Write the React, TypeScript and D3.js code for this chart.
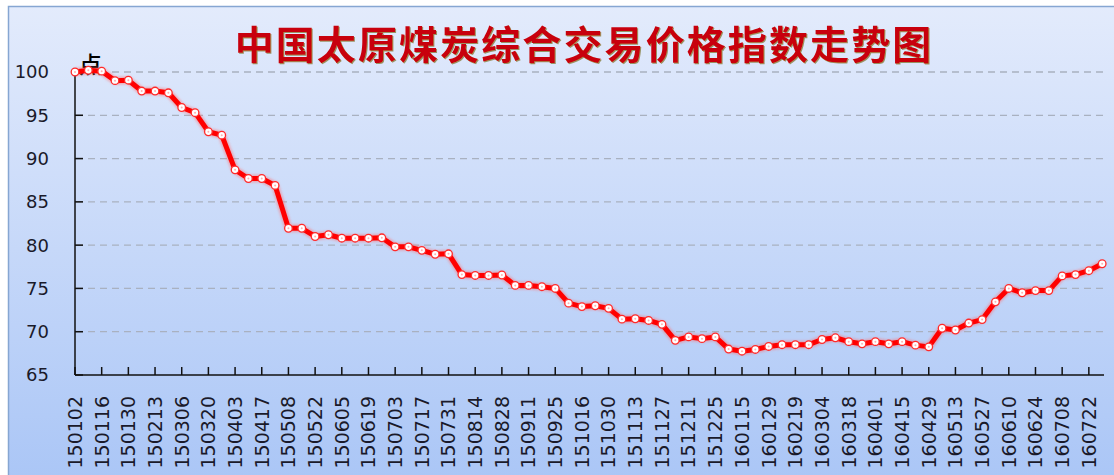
import React from "react";
import * as d3 from "d3";

const dates: string[] = [
  "150102","150109","150116","150123","150130","150206","150213","150227","150306","150313",
  "150320","150327","150403","150410","150417","150424","150508","150515","150522","150529",
  "150605","150612","150619","150626","150703","150710","150717","150724","150731","150807",
  "150814","150821","150828","150904","150911","150918","150925","151009","151016","151023",
  "151030","151106","151113","151120","151127","151204","151211","151218","151225","160108",
  "160115","160122","160129","160205","160219","160226","160304","160311","160318","160325",
  "160401","160408","160415","160422","160429","160506","160513","160520","160527","160603",
  "160610","160617","160624","160701","160708","160715","160722","160729"
];

const indexValues: number[] = [
  100.0, 100.2, 100.1, 99.0, 99.05, 97.8, 97.8, 97.6, 95.9, 95.3,
  93.1, 92.7, 88.7, 87.7, 87.7, 86.9, 81.95, 81.95, 81.0, 81.2,
  80.8, 80.8, 80.8, 80.85, 79.8, 79.8, 79.4, 78.95, 79.0, 76.6,
  76.5, 76.5, 76.55, 75.35, 75.35, 75.2, 75.0, 73.3, 72.9, 73.0,
  72.7, 71.45, 71.5, 71.3, 70.85, 69.0, 69.4, 69.2, 69.4, 68.0,
  67.75, 67.95, 68.3, 68.5, 68.5, 68.5, 69.1, 69.3, 68.85, 68.6,
  68.85, 68.6, 68.85, 68.45, 68.25, 70.4, 70.2, 71.0, 71.4, 73.45,
  75.0, 74.5, 74.75, 74.75, 76.45, 76.6, 77.05, 77.85
];

const tickLabels: string[] = dates.filter((_, i) => i % 2 === 0);
const yTicks: number[] = [65, 70, 75, 80, 85, 90, 95, 100];
const titleText = "中国太原煤炭综合交易价格指数走势图";
const unitText = "点";

const W = 1114;
const H = 475;

export default function App() {
  const x = d3
    .scalePoint<string>()
    .domain(dates)
    .range([75, 75 + (dates.length - 1) * 13.34]);
  const y = d3.scaleLinear().domain([65, 100]).range([375, 72]);
  const xEnd = 1104;

  const line = d3
    .line<number>()
    .x((_, i) => x(dates[i]) as number)
    .y((d) => y(d))
    .curve(d3.curveLinear);
  const path = line(indexValues) || "";

  const font = "'DejaVu Sans', Verdana, sans-serif";

  return (
    <svg
      width={W}
      height={H}
      style={{ position: "absolute", left: 0, top: 0, background: "#fff" }}
    >
      <defs>
        <linearGradient id="bg" x1="0" y1="0" x2="0" y2="1">
          <stop offset="0" stopColor="#e3ebfc" />
          <stop offset="1" stopColor="#a9c5f6" />
        </linearGradient>
        <filter id="glow" x="-5%" y="-5%" width="110%" height="110%">
          <feGaussianBlur stdDeviation="1.2" />
        </filter>
        <filter id="tshadow" x="-5%" y="-20%" width="110%" height="140%">
          <feDropShadow dx="1" dy="1" stdDeviation="0.6" floodColor="#6a5a00" floodOpacity="0.6" />
        </filter>
      </defs>

      <rect x={8.5} y={6.5} width={W + 10} height={H + 10} fill="url(#bg)" stroke="#86a6d2" strokeWidth={1.5} />

      <text
        x={584}
        y={59}
        textAnchor="middle"
        fontFamily="'Noto Sans CJK SC', sans-serif"
        fontWeight={700}
        fontSize={39}
        letterSpacing={2.1}
        fill="#c8000a"
        filter="url(#tshadow)"
      >
        {titleText}
      </text>

      {/* grid lines */}
      {yTicks.filter((t) => t > 65).map((t) => (
        <line
          key={"g" + t}
          x1={76}
          x2={xEnd}
          y1={y(t)}
          y2={y(t)}
          stroke="#a9b1c0"
          strokeWidth={1.3}
          strokeDasharray="7,5"
        />
      ))}

      {/* y axis */}
      <line x1={75} x2={75} y1={y(100)} y2={y(65)} stroke="#111" strokeWidth={1.5} />
      {yTicks.map((t) => (
        <g key={"y" + t}>
          <line x1={75} x2={83} y1={y(t)} y2={y(t)} stroke="#111" strokeWidth={1.5} />
          <text
            x={49}
            y={y(t)}
            dy="0.36em"
            textAnchor="end"
            fontFamily={font}
            fontSize={18}
            fill="#1a1a2a"
          >
            {t}
          </text>
        </g>
      ))}

      {/* x axis */}
      <line x1={75} x2={xEnd} y1={y(65)} y2={y(65)} stroke="#111" strokeWidth={1.5} />
      {tickLabels.map((d) => {
        const px = x(d) as number;
        return (
          <g key={"x" + d}>
            <line x1={px} x2={px} y1={y(65)} y2={y(65) - 8} stroke="#111" strokeWidth={1.5} />
            <text
              transform={`translate(${px},396) rotate(-90)`}
              textAnchor="end"
              dy="0.36em"
              fontFamily={font}
              fontSize={19}
              fill="#1a1a2a"
            >
              {d}
            </text>
          </g>
        );
      })}

      <text
        x={79}
        y={73}
        fontFamily="'Noto Sans CJK SC', sans-serif"
        fontSize={23}
        fontWeight={500}
        fill="#000"
      >
        {unitText}
      </text>

      {/* series */}
      <path d={path} fill="none" stroke="#ff6a6a" strokeWidth={8} strokeOpacity={0.45} filter="url(#glow)" strokeLinejoin="round" />
      <path d={path} fill="none" stroke="#ff0000" strokeWidth={5} strokeLinejoin="round" strokeLinecap="round" />
      {indexValues.map((v, i) => (
        <g key={"p" + i}>
          <circle cx={x(dates[i]) as number} cy={y(v)} r={3.8} fill="#fff" stroke="#ff2a2a" strokeWidth={1.3} />
          <circle cx={x(dates[i]) as number} cy={y(v)} r={1} fill="#ffb0b0" />
        </g>
      ))}
    </svg>
  );
}
